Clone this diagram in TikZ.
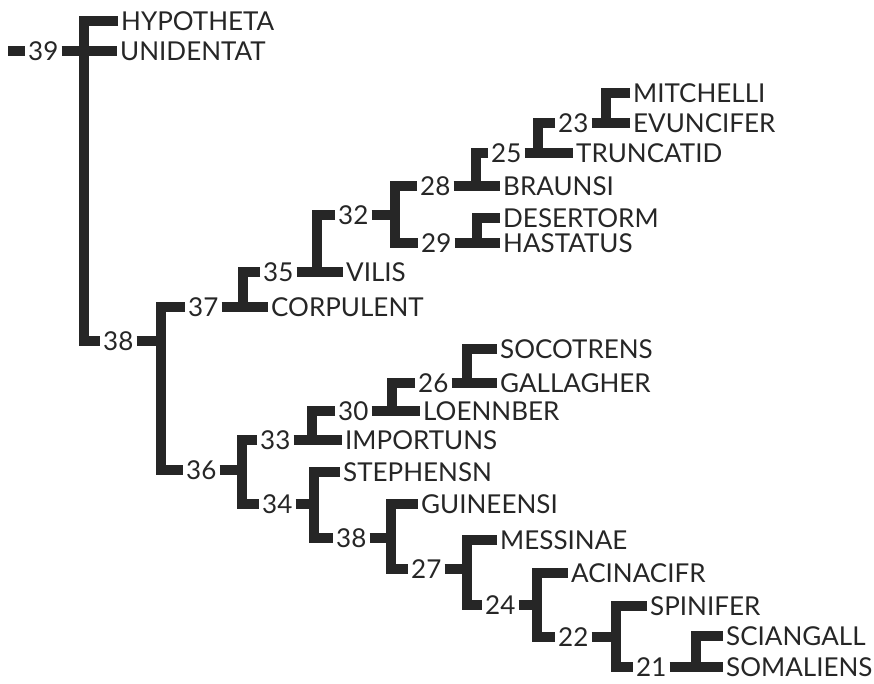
\documentclass[tikz,border=0pt]{standalone}
\usepackage{fontspec}
\setmainfont{Lato}
\tikzset{
  taxon/.style={anchor=west,inner xsep=3pt,inner ysep=0pt,text=black!85},
  clade/.style={anchor=west,inner xsep=3pt,inner ysep=0pt,text=black!85},
  branch/.style={line width=9.5pt,black!85}
}
\begin{document}
\begin{tikzpicture}[x=1pt,y=-1pt,font=\fontsize{26}{26}\selectfont]
\useasboundingbox (0,0) rectangle (874,683);
% taxa
\node[taxon] (hypo) at (118,21) {HYPOTHETA};
\node[taxon] (unid) at (117,51) {UNIDENTAT};
\node[taxon] (mitc) at (630,93) {MITCHELLI};
\node[taxon] (evun) at (630,123) {EVUNCIFER};
\node[taxon] (trun) at (573,153) {TRUNCATID};
\node[taxon] (brau) at (500,186) {BRAUNSI};
\node[taxon] (dese) at (500,218) {DESERTORM};
\node[taxon] (hast) at (500,243) {HASTATUS};
\node[taxon] (vili) at (343,272) {VILIS};
\node[taxon] (corp) at (268,307) {CORPULENT};
\node[taxon] (soco) at (497,349) {SOCOTRENS};
\node[taxon] (gall) at (497,383) {GALLAGHER};
\node[taxon] (loen) at (420,411) {LOENNBER};
\node[taxon] (impo) at (342,440) {IMPORTUNS};
\node[taxon] (step) at (340,472) {STEPHENSN};
\node[taxon] (guin) at (418,504) {GUINEENSI};
\node[taxon] (mess) at (497,540) {MESSINAE};
\node[taxon] (acin) at (568,573) {ACINACIFR};
\node[taxon] (spin) at (647,606) {SPINIFER};
\node[taxon] (scia) at (723,636) {SCIANGALL};
\node[taxon] (soma) at (723,667) {SOMALIENS};
% clade numbers
\node[clade] (c39) at (25,51) {39};
\node[clade] (c38a) at (100,341) {38};
\node[clade] (c37) at (185,307) {37};
\node[clade] (c36) at (183,470) {36};
\node[clade] (c35) at (260,272) {35};
\node[clade] (c34) at (259,504) {34};
\node[clade] (c33) at (257,440) {33};
\node[clade] (c32) at (335,215) {32};
\node[clade] (c30) at (335,411) {30};
\node[clade] (c38b) at (333,538) {38};
\node[clade] (c29) at (418,243) {29};
\node[clade] (c28) at (417,186) {28};
\node[clade] (c27) at (408,569) {27};
\node[clade] (c26) at (415,383) {26};
\node[clade] (c25) at (488,153) {25};
\node[clade] (c24) at (482,605) {24};
\node[clade] (c23) at (555,123) {23};
\node[clade] (c22) at (555,637) {22};
\node[clade] (c21) at (633,667) {21};
% bars
\coordinate (root) at (8,51);
\coordinate (b39) at (84,51);
\coordinate (b38a) at (161,341);
\coordinate (b37) at (243,307);
\coordinate (b36) at (242,470);
\coordinate (b35) at (317,272);
\coordinate (b34) at (314,504);
\coordinate (b33) at (312,440);
\coordinate (b32) at (395,215);
\coordinate (b30) at (392,411);
\coordinate (b38b) at (391,538);
\coordinate (b29) at (477,243);
\coordinate (b28) at (476,186);
\coordinate (b27) at (467,569);
\coordinate (b26) at (467,383);
\coordinate (b25) at (538,153);
\coordinate (b24) at (537,605);
\coordinate (b23) at (606,123);
\coordinate (b22) at (616,637);
\coordinate (b21) at (696,667);
% stubs
\draw[branch] (root) -- (c39.west);
\draw[branch] (c39.east) -- (b39);
\draw[branch] (c38a.east) -- (b38a);
\draw[branch] (c37.east) -- (b37);
\draw[branch] (c36.east) -- (b36);
\draw[branch] (c35.east) -- (b35);
\draw[branch] (c34.east) -- (b34);
\draw[branch] (c33.east) -- (b33);
\draw[branch] (c32.east) -- (b32);
\draw[branch] (c30.east) -- (b30);
\draw[branch] (c38b.east) -- (b38b);
\draw[branch] (c29.east) -- (b29);
\draw[branch] (c28.east) -- (b28);
\draw[branch] (c27.east) -- (b27);
\draw[branch] (c26.east) -- (b26);
\draw[branch] (c25.east) -- (b25);
\draw[branch] (c24.east) -- (b24);
\draw[branch] (c23.east) -- (b23);
\draw[branch] (c22.east) -- (b22);
\draw[branch] (c21.east) -- (b21);
% brackets
\draw[branch] (hypo.west) -| (b39 |- c38a.west) -- (c38a.west);
\draw[branch] (b39) -- (unid.west);
\draw[branch] (c37.west) -| (b38a |- c36.west) -- (c36.west);
\draw[branch] (c35.west) -| (b37 |- corp.west) -- (corp.west);
\draw[branch] (c32.west) -| (b35 |- vili.west) -- (vili.west);
\draw[branch] (c28.west) -| (b32 |- c29.west) -- (c29.west);
\draw[branch] (c25.west) -| (b28 |- brau.west) -- (brau.west);
\draw[branch] (c23.west) -| (b25 |- trun.west) -- (trun.west);
\draw[branch] (mitc.west) -| (b23 |- evun.west) -- (evun.west);
\draw[branch] (dese.west) -| (b29 |- hast.west) -- (hast.west);
\draw[branch] (c33.west) -| (b36 |- c34.west) -- (c34.west);
\draw[branch] (c30.west) -| (b33 |- impo.west) -- (impo.west);
\draw[branch] (c26.west) -| (b30 |- loen.west) -- (loen.west);
\draw[branch] (soco.west) -| (b26 |- gall.west) -- (gall.west);
\draw[branch] (step.west) -| (b34 |- c38b.west) -- (c38b.west);
\draw[branch] (guin.west) -| (b38b |- c27.west) -- (c27.west);
\draw[branch] (mess.west) -| (b27 |- c24.west) -- (c24.west);
\draw[branch] (acin.west) -| (b24 |- c22.west) -- (c22.west);
\draw[branch] (spin.west) -| (b22 |- c21.west) -- (c21.west);
\draw[branch] (scia.west) -| (b21 |- soma.west) -- (soma.west);
\end{tikzpicture}
\end{document}
